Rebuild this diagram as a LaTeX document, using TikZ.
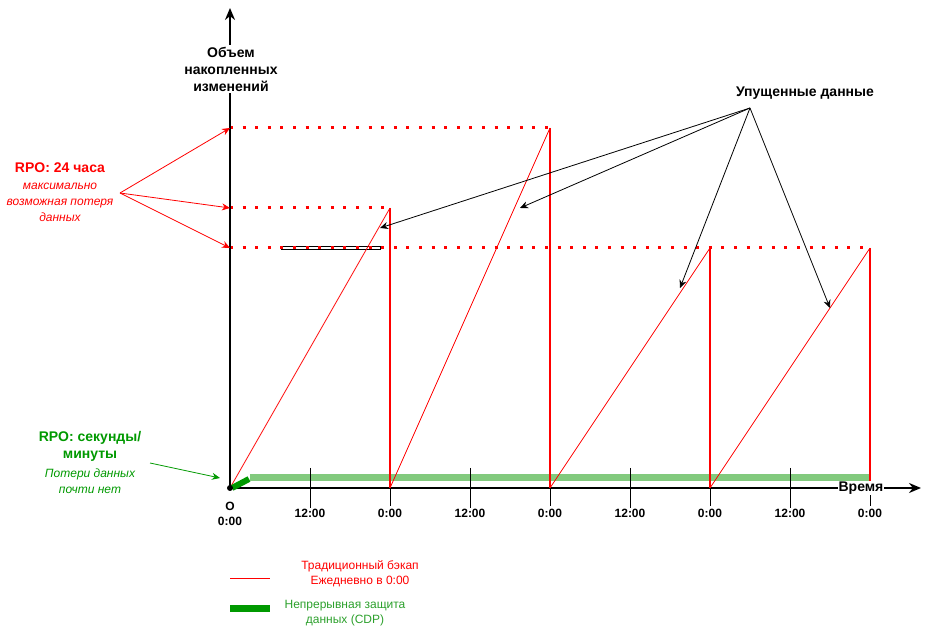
\documentclass[tikz,border=0pt]{standalone}
\usepackage{fontspec}
\setmainfont{Liberation Sans}
\usetikzlibrary{arrows.meta}
\definecolor{cdpgreen}{HTML}{009900}
\definecolor{bandgreen}{HTML}{82CA7E}
\definecolor{txtgreen}{HTML}{2CA02C}
\tikzset{
  axisline/.style={line width=2pt,-{Stealth[length=12pt,width=10pt]}},
  tip/.style={-{Stealth[length=8pt,width=7pt]}},
  level/.style={red,line width=3pt,dash pattern=on 3pt off 9.6pt},
  rise/.style={red,line width=0.8pt},
  drop/.style={red,line width=2pt},
  tick/.style={black,line width=1pt},
  ticklabel/.style={font=\bfseries\fontsize{12}{14}\selectfont,inner sep=1pt},
  biglabel/.style={font=\bfseries\fontsize{14}{17}\selectfont,align=center},
  smalllabel/.style={font=\itshape\fontsize{12}{16}\selectfont,align=center},
  legendtext/.style={font=\fontsize{12}{15}\selectfont,align=center}
}
\begin{document}
\begin{tikzpicture}[x=1pt,y=-1pt]
\useasboundingbox (0,0) rectangle (930,628);
% coordinates
\coordinate (O) at (230,488);
\coordinate (ytop) at (230,8);
\coordinate (xend) at (921,488);
\coordinate (a1) at (390,208); \coordinate (b1) at (390,488);
\coordinate (a2) at (550,128); \coordinate (b2) at (550,488);
\coordinate (a3) at (710,248); \coordinate (b3) at (710,488);
\coordinate (a4) at (870,248); \coordinate (b4) at (870,488);
\coordinate (l1) at (230,128); \coordinate (l2) at (230,208); \coordinate (l3) at (230,248);
% black double segment
\draw[black,line width=0.8pt] (281,246.5) rectangle (380,249.5);
% levels
\draw[level] (l1) -- (a2);
\draw[level] (l2) -- (a1);
\draw[level] (l3) -- (a4);
% green band
\coordinate (g1) at (250,478); \coordinate (g2) at (870,478);
\draw[bandgreen,line width=7pt] (g1) -- (g2);
% ticks
\foreach \x in {310,470,630,790} \draw[tick] (\x,468) -- (\x,508);
\foreach \x in {390,550,710,870} \draw[tick] (\x,488) -- (\x,506);
% axes
\draw[axisline] (O) -- (ytop);
\draw[axisline] (O) -- (xend);
% sawtooth
\draw[rise] (O) -- (a1);
\draw[drop] (a1) -- (b1);
\draw[rise] (b1) -- (a2);
\draw[drop] (a2) -- (b2);
\draw[rise] (b2) -- (a3);
\draw[drop] (a3) -- (b3);
\draw[rise] (b3) -- (a4);
\draw[drop] (a4) -- (b4);
% CDP start
\coordinate (c1) at (232,488); \coordinate (c2) at (249,479);
\draw[cdpgreen,line width=6pt] (c1) -- (c2);
\fill[black] (O) circle (3pt);
% axis labels
\node[biglabel,fill=white,inner sep=2pt] (ylab) at (231,69) {Объем\\накопленных\\изменений};
\node[biglabel,fill=white,inner sep=1pt] (xlab) at (861,488) {Время};
\node[ticklabel] (o) at (230,506) {O};
\node[ticklabel] (t0) at (230,521) {0:00};
\foreach \x/\t in {310/12:00,390/0:00,470/12:00,550/0:00,630/12:00,710/0:00,790/12:00,870/0:00}
  \node[ticklabel,fill=white] at (\x,513) {\t};
% RPO 24
\node[biglabel,text=red] (rpo1) at (60,168) {RPO: 24 часа};
\node[smalllabel,text=red] (rpo1s) at (60,202) {максимально\\возможная потеря\\данных};
\coordinate (r0) at (120,193);
\draw[red,tip,line width=0.8pt] (r0) -- (l1);
\draw[red,tip,line width=0.8pt] (r0) -- (l2);
\draw[red,tip,line width=0.8pt] (r0) -- (l3);
% RPO seconds
\node[biglabel,text=cdpgreen] (rpo2) at (90,446.5) {RPO: секунды/\\минуты};
\node[smalllabel,text=cdpgreen] (rpo2s) at (90,481) {Потери данных\\почти нет};
\coordinate (gs) at (150,463); \coordinate (ge) at (220,478);
\draw[cdpgreen,tip,line width=0.8pt] (gs) -- (ge);
% missed data
\node[biglabel] (miss) at (805,93) {Упущенные данные};
\coordinate (m0) at (750,108);
\coordinate (m1) at (380,228); \coordinate (m2) at (520,208);
\coordinate (m3) at (680,288); \coordinate (m4) at (830,308);
\foreach \m in {m1,m2,m3,m4} \draw[black,tip,line width=0.8pt] (m0) -- (\m);
% legend
\coordinate (lr1) at (230,578); \coordinate (lr2) at (270,578);
\draw[red,line width=1pt] (lr1) -- (lr2);
\node[legendtext,text=red] (leg1) at (360,573.5) {Традиционный бэкап\\Ежедневно в 0:00};
\coordinate (lg1) at (230,608); \coordinate (lg2) at (270,608);
\draw[cdpgreen,line width=7pt] (lg1) -- (lg2);
\node[legendtext,text=txtgreen] (leg2) at (345,613.5) {Непрерывная защита\\данных (CDP)};
\end{tikzpicture}
\end{document}
